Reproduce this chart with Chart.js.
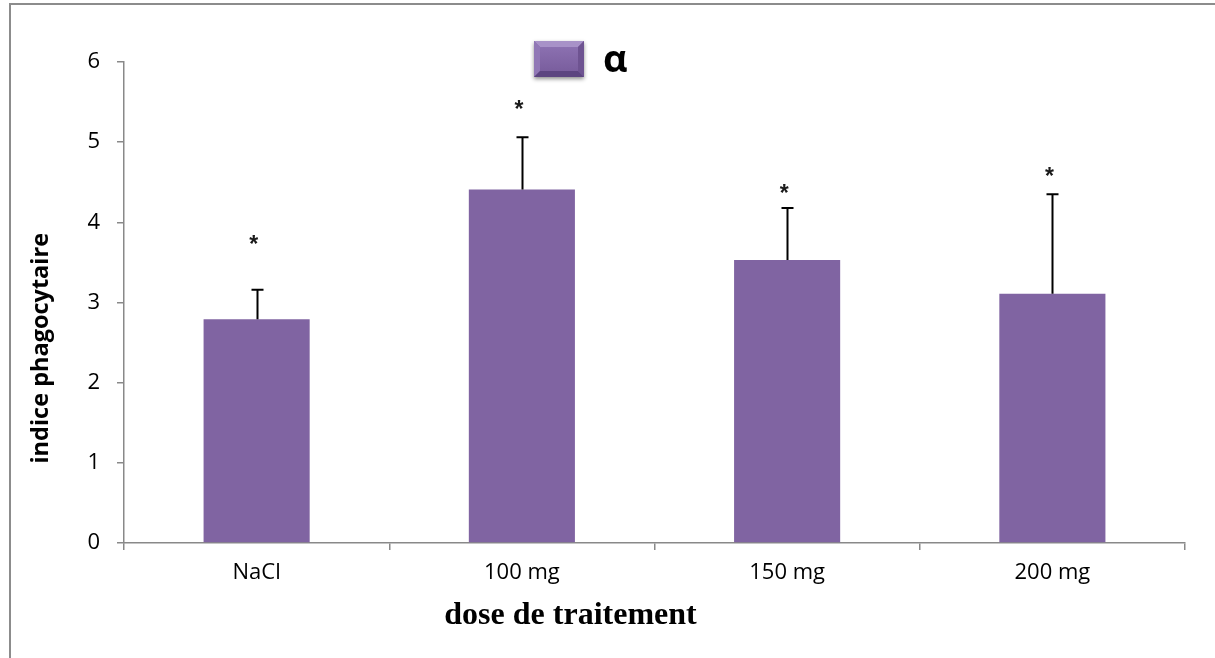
<!DOCTYPE html>
<html>
<head>
<meta charset="utf-8">
<script src="https://cdn.jsdelivr.net/npm/chart.js@4/dist/chart.umd.min.js"></script>
<style>
  html, body { margin: 0; padding: 0; background: #ffffff; }
  #wrap { position: relative; width: 1215px; height: 658px; overflow: hidden; }
  #frame { position: absolute; left: 9px; top: 3px; width: 1300px; height: 800px;
           border-left: 2px solid #8c8c8c; border-top: 2px solid #8c8c8c; pointer-events: none; }
  canvas { position: absolute; left: 0; top: 0; }
</style>
</head>
<body>
<div id="wrap">
  <canvas id="c" width="1215" height="658"></canvas>
  <div id="frame"></div>
</div>
<script>
// ---- data ----
const categories = ['NaCl', '100 mg', '150 mg', '200 mg'];
const seriesName = 'α';
const values = [2.79, 4.41, 3.53, 3.11];
const errors = [0.37, 0.65, 0.65, 1.24];
const starPositions = [3.77, 5.46, 4.41, 4.62];
const starLabels = ['*', '*', '*', '*'];
const yTicks = [0, 1, 2, 3, 4, 5, 6];
const yTitle = 'indice phagocytaire';
const xTitle = 'dose de traitement';

const PURPLE = '#8064A2';
const AXIS = '#898989';
const NBSP = '\u00A0';

// bevelled legend swatch
function makeSwatch() {
  const cv = document.createElement('canvas');
  cv.width = 58; cv.height = 46;
  const g = cv.getContext('2d');
  const x0 = 4, y0 = 3, w = 50, h = 36, b = 6;
  g.save();
  g.shadowColor = 'rgba(0,0,0,0.45)';
  g.shadowBlur = 4;
  g.shadowOffsetY = 2;
  g.fillStyle = PURPLE;
  g.fillRect(x0, y0, w, h);
  g.restore();
  g.fillStyle = '#a892c8';
  g.beginPath(); g.moveTo(x0, y0); g.lineTo(x0 + w, y0); g.lineTo(x0 + w - b, y0 + b); g.lineTo(x0 + b, y0 + b); g.closePath(); g.fill();
  g.fillStyle = '#9178b6';
  g.beginPath(); g.moveTo(x0, y0); g.lineTo(x0 + b, y0 + b); g.lineTo(x0 + b, y0 + h - b); g.lineTo(x0, y0 + h); g.closePath(); g.fill();
  g.fillStyle = '#6e5391';
  g.beginPath(); g.moveTo(x0 + w, y0); g.lineTo(x0 + w, y0 + h); g.lineTo(x0 + w - b, y0 + h - b); g.lineTo(x0 + w - b, y0 + b); g.closePath(); g.fill();
  g.fillStyle = '#5c4480';
  g.beginPath(); g.moveTo(x0, y0 + h); g.lineTo(x0 + b, y0 + h - b); g.lineTo(x0 + w - b, y0 + h - b); g.lineTo(x0 + w, y0 + h); g.closePath(); g.fill();
  const gr = g.createLinearGradient(0, y0 + b, 0, y0 + h - b);
  gr.addColorStop(0, '#8b70b0');
  gr.addColorStop(1, '#7a5e9e');
  g.fillStyle = gr;
  g.fillRect(x0 + b, y0 + b, w - 2 * b, h - 2 * b);
  return cv;
}
const swatch = makeSwatch();

const errorPlugin = {
  id: 'errorBars',
  afterDatasetsDraw(chart) {
    const meta = chart.getDatasetMeta(0);
    const ys = chart.scales.y;
    const ctx = chart.ctx;
    ctx.save();
    ctx.strokeStyle = '#000000';
    ctx.lineWidth = 2;
    meta.data.forEach((bar, i) => {
      const x = Math.round(bar.x) + 0.5;
      const yb = ys.getPixelForValue(values[i]);
      const yt = ys.getPixelForValue(values[i] + errors[i]);
      ctx.beginPath();
      ctx.moveTo(x, yb); ctx.lineTo(x, yt);
      ctx.moveTo(x - 6, yt); ctx.lineTo(x + 6, yt);
      ctx.stroke();
    });
    ctx.fillStyle = '#1a1a1a';
    ctx.font = 'bold 23px "Liberation Sans"';
    ctx.textAlign = 'center';
    ctx.textBaseline = 'middle';
    meta.data.forEach((bar, i) => {
      ctx.fillText(starLabels[i], bar.x - 3, ys.getPixelForValue(starPositions[i]) + 5);
    });
    ctx.restore();
  }
};

const legendPlace = {
  id: 'legendPlace',
  afterLayout(chart) {
    const lg = chart.legend;
    if (!lg) return;
    const h = lg.height;
    lg.left = 524; lg.right = 1215;
    lg.top = 32; lg.bottom = 32 + h;
  }
};

new Chart(document.getElementById('c'), {
  type: 'bar',
  data: {
    labels: categories,
    datasets: [{
      label: seriesName,
      data: values,
      backgroundColor: PURPLE,
      borderWidth: 0,
      barPercentage: 0.4,
      categoryPercentage: 1.0
    }]
  },
  options: {
    responsive: false,
    animation: false,
    devicePixelRatio: 1,
    layout: { padding: { left: 24, right: 30, top: 4, bottom: 0 } },
    plugins: {
      tooltip: { enabled: false },
      legend: {
        position: 'top',
        align: 'start',
        labels: {
          usePointStyle: true,
          pointStyleWidth: 50,
          padding: 10,
          color: '#000000',
          font: { family: 'Open Sans', size: 38, weight: 'bold' },
          generateLabels() {
            return [{ text: seriesName, pointStyle: swatch, fillStyle: PURPLE, strokeStyle: 'rgba(0,0,0,0)', lineWidth: 0, hidden: false, datasetIndex: 0 }];
          }
        }
      }
    },
    scales: {
      x: {
        afterFit(s) { s.height = 115; },
        grid: { display: true, drawOnChartArea: false, drawTicks: true, tickLength: 7, color: AXIS, lineWidth: 1.5, offset: true },
        border: { display: true, color: AXIS, width: 1.5 },
        ticks: { color: '#000000', padding: 10, font: { family: 'Open Sans', size: 22 } },
        title: { display: true, text: xTitle + NBSP.repeat(21), color: '#000000', padding: { top: 0, bottom: 23 },
                 font: { family: 'Liberation Serif', size: 32, weight: 'bold' } }
      },
      y: {
        min: 0, max: 6,
        afterFit(s) { s.width = 100; },
        afterBuildTicks(s) { s.ticks = yTicks.map(v => ({ value: v })); },
        grid: { display: true, drawOnChartArea: false, drawTicks: true, tickLength: 7, color: AXIS, lineWidth: 1.5 },
        border: { display: true, color: AXIS, width: 1.5 },
        ticks: { color: '#000000', padding: 17, font: { family: 'Open Sans', size: 22 } },
        title: { display: true, text: yTitle + NBSP.repeat(15), color: '#000000', padding: { top: 3, bottom: 4 },
                 font: { family: 'Open Sans', size: 23.5, weight: 'bold' } }
      }
    }
  },
  plugins: [errorPlugin, legendPlace]
});
</script>
</body>
</html>
